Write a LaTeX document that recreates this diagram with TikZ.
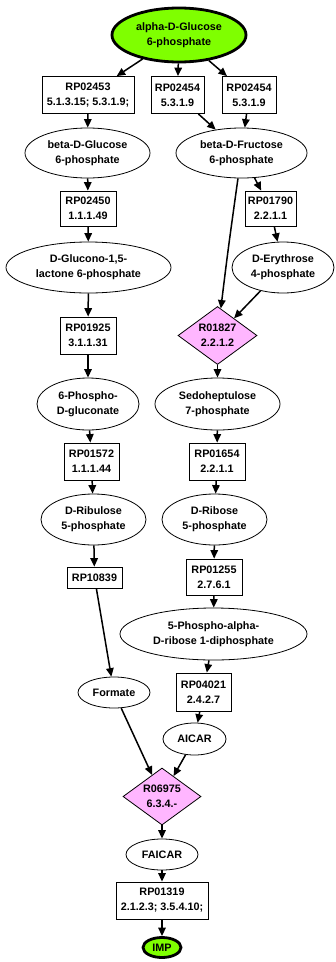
\documentclass[tikz,border=0pt]{standalone}
\usepackage{fontspec}
\setmainfont{Liberation Sans}
\usetikzlibrary{shapes.geometric,arrows.meta}
\definecolor{endgreen}{RGB}{127,255,0}
\definecolor{rxnpink}{RGB}{255,182,255}
% text of a reaction diamond: kept zero-width so the diamond size is set by its minimum sizes
\newcommand\rxnlabel[1]{\makebox[0pt]{\begin{tabular}{@{}c@{}}#1\end{tabular}}}
\tikzset{
  base/.style={font=\fontsize{10.8bp}{15bp}\selectfont\bfseries, align=center,
    inner sep=0pt, draw=black, line width=0.8bp},
  sz/.style 2 args={minimum width=#1bp, minimum height=#2bp},
  cpd/.style={base, ellipse, fill=white},
  endcpd/.style={base, ellipse, fill=endgreen, line width=2.8bp},
  rp/.style={base, rectangle, fill=white},
  rxn/.style={base, diamond, fill=rxnpink},
  edge/.style={line width=1.5bp, -{Triangle[length=8.5bp,width=7.5bp]}}
}
\begin{document}
\begin{tikzpicture}[x=1bp, y=-1bp]
\fill[white] (0,0) rectangle (335,962);
\useasboundingbox (0,0) rectangle (335,962);

% compounds and reaction steps
\node[endcpd, sz={134}{54}] (g6p) at (179,35) {alpha-D-Glucose\\6-phosphate};
\node[rp, sz={92}{37}] (rp02453) at (88,95) {RP02453\\5.1.3.15; 5.3.1.9;};
\node[rp, sz={53}{37}] (rp02454a) at (177.5,95) {RP02454\\5.3.1.9};
\node[rp, sz={54}{37}] (rp02454b) at (249,95) {RP02454\\5.3.1.9};
\node[cpd, sz={125}{50}] (bglc) at (87.5,153) {beta-D-Glucose\\6-phosphate};
\node[cpd, sz={131}{50}] (bfru) at (241.5,153) {beta-D-Fructose\\6-phosphate};
\node[rp, sz={56}{35}] (rp02450) at (88,208.5) {RP02450\\1.1.1.49};
\node[rp, sz={51}{35}] (rp01790) at (270.5,208.5) {RP01790\\2.2.1.1};
\node[cpd, sz={165}{51}] (glucono) at (88.5,267.5) {D-Glucono-1,5-\\lactone 6-phosphate};
\node[cpd, sz={102}{51}] (e4p) at (283,267.5) {D-Erythrose\\4-phosphate};
\node[rp, sz={56}{37}] (rp01925) at (88,335.5) {RP01925\\3.1.1.31};
\node[rxn, sz={79}{58}] (r01827) at (217.5,335.5) {\rxnlabel{R01827\\2.2.1.2}};
\node[cpd, sz={102}{52}] (pgluc) at (88,404) {6-Phospho-\\D-gluconate};
\node[cpd, sz={125}{52}] (s7p) at (217.5,404) {Sedoheptulose\\7-phosphate};
\node[rp, sz={55}{37}] (rp01572) at (91.5,461.5) {RP01572\\1.1.1.44};
\node[rp, sz={56}{37}] (rp01654) at (217,461.5) {RP01654\\2.2.1.1};
\node[cpd, sz={105}{51}] (ru5p) at (93.5,519.5) {D-Ribulose\\5-phosphate};
\node[cpd, sz={105}{51}] (r5p) at (214.5,519.5) {D-Ribose\\5-phosphate};
\node[rp, sz={55}{21}] (rp10839) at (94.5,577.5) {RP10839};
\node[rp, sz={56}{36}] (rp01255) at (214,577) {RP01255\\2.7.6.1};
\node[cpd, sz={187}{52}] (prpp) at (213.5,634) {5-Phospho-alpha-\\D-ribose 1-diphosphate};
\node[cpd, sz={72}{31}] (formate) at (114,692.5) {Formate};
\node[rp, sz={55}{38}] (rp04021) at (203.5,692) {RP04021\\2.4.2.7};
\node[cpd, sz={63}{32}] (aicar) at (194.5,739) {AICAR};
\node[rxn, sz={78}{57}] (r06975) at (162,796.5) {\rxnlabel{R06975\\6.3.4.-}};
\node[cpd, sz={72}{31}] (faicar) at (162,854.5) {FAICAR};
\node[rp, sz={92}{37}] (rp01319) at (162,900.5) {RP01319\\2.1.2.3; 3.5.4.10;};
\node[endcpd, sz={38}{20}] (imp) at (162,947.5) {IMP};

% connectors
\draw[edge] (g6p) -- (rp02453);
\draw[edge] (g6p) -- (rp02454a);
\draw[edge] (g6p) -- (rp02454b);
\draw[edge] (rp02453) -- (bglc);
\draw[edge] (rp02454a) -- (bfru);
\draw[edge] (rp02454b) -- (bfru);
\draw[edge] (bglc) -- (rp02450);
\draw[edge] (rp02450) -- (glucono);
\draw[edge] (glucono) -- (rp01925);
\draw[edge] (rp01925) -- (pgluc);
\draw[edge] (pgluc) -- (rp01572);
\draw[edge] (rp01572) -- (ru5p);
\draw[edge] (ru5p) -- (rp10839);
\draw[edge] (rp10839) -- (formate);
\draw[edge] (formate) -- (r06975);
\draw[edge] (bfru) -- (rp01790);
\draw[edge] (bfru) .. controls (228,250) .. (r01827);
\draw[edge] (rp01790) -- (e4p);
\draw[edge] (e4p) -- (r01827);
\draw[edge] (r01827) -- (s7p);
\draw[edge] (s7p) -- (rp01654);
\draw[edge] (rp01654) -- (r5p);
\draw[edge] (r5p) -- (rp01255);
\draw[edge] (rp01255) -- (prpp);
\draw[edge] (prpp) -- (rp04021);
\draw[edge] (rp04021) -- (aicar);
\draw[edge] (aicar) -- (r06975);
\draw[edge] (r06975) -- (faicar);
\draw[edge] (faicar) -- (rp01319);
\draw[edge] (rp01319) -- (imp);
\end{tikzpicture}
\end{document}
